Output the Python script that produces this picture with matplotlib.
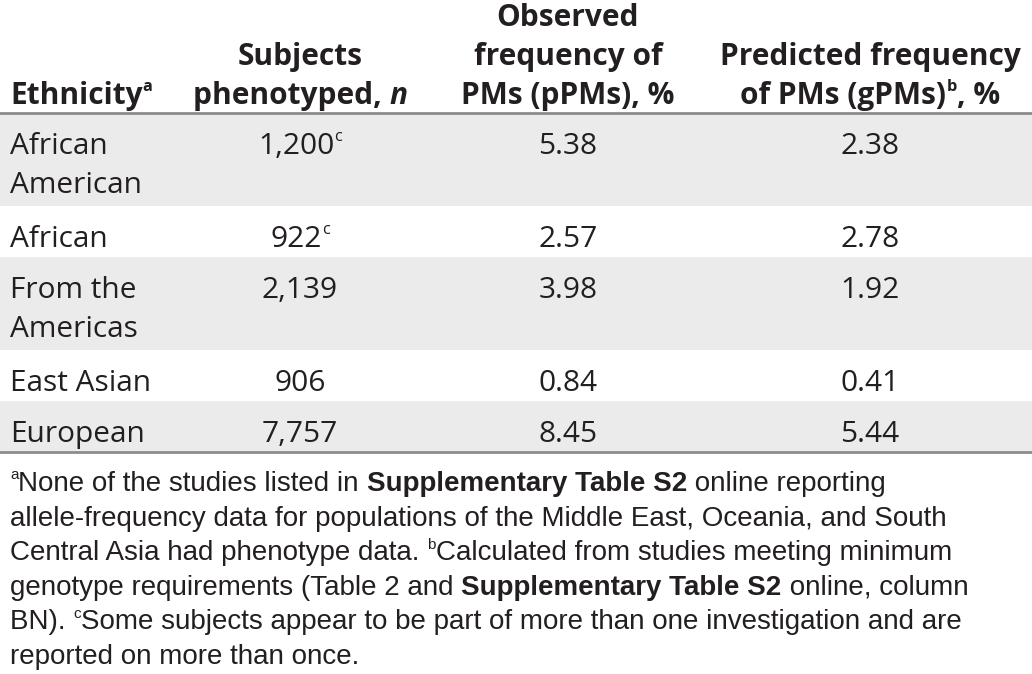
import matplotlib
matplotlib.use("Agg")
import matplotlib.pyplot as plt
from matplotlib import font_manager
from matplotlib.font_manager import FontProperties

# table data
ethnicity = [["African", "American"], ["African"], ["From the", "Americas"],
             ["East Asian"], ["European"]]
subjects = ["1,200", "922", "2,139", "906", "7,757"]
subjects_note = ["c", "c", "", "", ""]
observed = ["5.38", "2.57", "3.98", "0.84", "8.45"]
predicted = ["2.38", "2.78", "1.92", "0.41", "5.44"]

# header lines: list of runs (text, style)
header = [
    [[("Ethnicity", "b"), ("a", "bsup")]],
    [[("Subjects", "b")], [("phenotyped, ", "b"), ("n", "bi")]],
    [[("Observed", "b")], [("frequency of", "b")], [("PMs (pPMs), %", "b")]],
    [[("Predicted frequency", "b")],
     [("of PMs (gPMs)", "b"), ("b", "bsup"), (", %", "b")]],
]

footnotes = [
    [("a", "sup"), ("None of the studies listed in ", "r"),
     ("Supplementary Table S2", "b"), (" online reporting", "r")],
    [("allele-frequency data for populations of the Middle East, Oceania, and South", "r")],
    [("Central Asia had phenotype data. ", "r"), ("b", "sup"),
     ("Calculated from studies meeting minimum", "r")],
    [("genotype requirements (Table 2 and ", "r"),
     ("Supplementary Table S2", "b"), (" online, column", "r")],
    [("BN). ", "r"), ("c", "sup"),
     ("Some subjects appear to be part of more than one investigation and are", "r")],
    [("reported on more than once.", "r")],
]

W, H = 1032, 674
fig = plt.figure(figsize=(W / 100, H / 100), dpi=100)
ax = fig.add_axes([0, 0, 1, 1])
ax.set_xlim(0, W)
ax.set_ylim(H, 0)
ax.axis("off")
r = fig.canvas.get_renderer()

main = "Open Sans"
names = {f.name for f in font_manager.fontManager.ttflist}
narrow = "Liberation Sans Narrow" if "Liberation Sans Narrow" in names else "Liberation Sans"

SZ = 21.5
FSZ = 20

def fp(style, base=main, size=SZ):
    if style == "b":
        return FontProperties(family=base, weight="bold", size=size)
    if style == "bi":
        return FontProperties(family=base, weight="bold", style="italic", size=size)
    if style == "bsup":
        return FontProperties(family=base, weight="bold", size=size * 0.55)
    if style == "sup":
        return FontProperties(family=base, size=size * 0.55)
    return FontProperties(family=base, size=size)

def width(txt, prop):
    t1 = ax.text(0, 0, txt + "|", fontproperties=prop)
    t2 = ax.text(0, 0, "|", fontproperties=prop)
    w = t1.get_window_extent(r).width - t2.get_window_extent(r).width
    t1.remove()
    t2.remove()
    return w

def draw_runs(runs, x, y, ha="left", base=main, size=SZ, color="#231f20"):
    props = [fp(s, base, size) for _, s in runs]
    ws = [width(t, p) for (t, _), p in zip(runs, props)]
    total = sum(ws)
    if ha == "center":
        x = x - total / 2
    for (t, s), p, w in zip(runs, props, ws):
        dy = -size * 1.39 * 0.42 if "sup" in s else 0
        ax.text(x, y + dy, t, fontproperties=p, ha="left", va="baseline", color=color)
        x += w

col_x = [10, 300, 568, 870]
col_ha = ["left", "center", "center", "center"]
line_gap = 39

# header, bottom aligned
head_base = 104
for c, lines in enumerate(header):
    n = len(lines)
    for i, runs in enumerate(lines):
        draw_runs(runs, col_x[c], head_base - (n - 1 - i) * line_gap, col_ha[c])

top = 113
ax.axhline(top, color="#8c8c8c", lw=2)
for i in range(len(ethnicity)):
    n = len(ethnicity[i])
    h = 51 + 42 * (n - 1)
    if i % 2 == 0:
        ax.axhspan(top, top + h, color="#ebebeb", lw=0, zorder=0)
    base = top + 41
    for j, word in enumerate(ethnicity[i]):
        draw_runs([(word, "r")], col_x[0], base + j * line_gap)
    sub = [(subjects[i], "r")]
    if subjects_note[i]:
        sub.append((subjects_note[i], "sup"))
    draw_runs(sub, col_x[1], base, "center")
    draw_runs([(observed[i], "r")], col_x[2], base, "center")
    draw_runs([(predicted[i], "r")], col_x[3], base, "center")
    top += h
ax.axhline(top, color="#8c8c8c", lw=2)

# footnotes
fy = 491
for runs in footnotes:
    draw_runs(runs, 10, fy, base=narrow, size=FSZ)
    fy += 34.6

fig.savefig("out.png", dpi=100)
